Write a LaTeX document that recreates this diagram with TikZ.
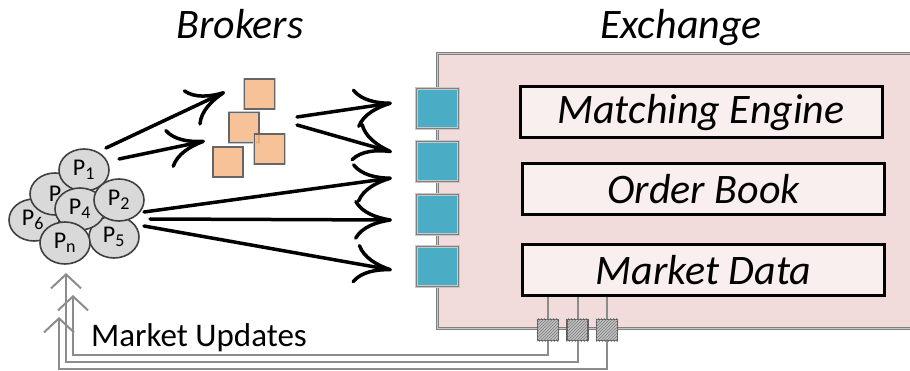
\documentclass[tikz,border=0pt]{standalone}
\usepackage{fontspec}
\setmainfont{Carlito}
\usetikzlibrary{arrows.meta,shapes.geometric,patterns}
\definecolor{exfill}{HTML}{F2DCDB}
\definecolor{boxfill}{HTML}{FAEFEF}
\definecolor{bluefill}{HTML}{4BACC6}
\definecolor{orangefill}{HTML}{F6B785}
\definecolor{rimgray}{HTML}{808080}
\definecolor{rimlight}{HTML}{C8C8C8}
\definecolor{peerfill}{HTML}{D9D9D9}
\definecolor{peerdraw}{HTML}{404040}
\definecolor{updgray}{HTML}{8C8C8C}
\definecolor{sqgray}{HTML}{BFBFBF}
\begin{document}
\begin{tikzpicture}[x=1pt,y=-1pt,
  title/.style={font=\fontsize{42}{46}\selectfont\itshape, inner sep=0pt},
  compbox/.style={draw=black, line width=3pt, fill=boxfill, minimum width=362pt, minimum height=51pt, inner sep=0pt, font=\fontsize{42}{46}\selectfont\itshape},
  portsq/.style={draw=rimlight, double=rimgray, double distance=1.2pt, line width=0.7pt, fill=bluefill, minimum width=42pt, minimum height=40pt, inner sep=0pt},
  brokersq/.style={draw=rimlight, double=rimgray!80!black, double distance=1.4pt, line width=0.7pt, fill=orangefill, fill opacity=0.85, minimum width=30pt, minimum height=30pt, inner sep=0pt},
  mdsq/.style={draw=rimgray!70!black, line width=1.2pt, fill=sqgray, minimum width=21pt, minimum height=21pt, inner sep=0pt},
  peer/.style={ellipse, draw=peerdraw, line width=1.6pt, fill=peerfill, minimum width=50pt, minimum height=42pt, inner sep=0pt, font=\fontsize{24}{25}\selectfont},
  bigarrow/.style={line width=3.5pt, line cap=round, -{Computer Modern Rightarrow[length=38pt,width=40pt]}},
  upd/.style={draw=updgray, line width=2pt},
  updarrow/.style={upd, -{Straight Barb[length=14pt,width=30pt,line width=2pt]}},
]
\newcommand{\psub}[1]{\textsubscript{\fontsize{18}{19}\selectfont #1}}
\useasboundingbox (0,0) rectangle (910,371);

% Titles
\node[title, anchor=base] (tbrokers) at (240,39) {Brokers};
\node[title, anchor=base] (texchange) at (681,39) {Exchange};

% Exchange box
\node[draw=rimgray, double=rimlight, double distance=1pt, line width=0.8pt, fill=exfill, anchor=north west, minimum width=520pt, minimum height=275pt, inner sep=0pt] (exch) at (437,53) {};

% Components
\node[compbox] (me) at (701,112.5) {Matching Engine};
\node[compbox] (ob) at (703.5,189.5) {Order Book};
\node[compbox] (md) at (703.5,270) {Market Data};

% Ports (blue)
\node[portsq] (b1) at (437.5,108.5) {};
\node[portsq] (b2) at (437.5,161.5) {};
\node[portsq] (b3) at (437.5,214.5) {};
\node[portsq] (b4) at (437.5,266.5) {};

% Market data output squares
\node[mdsq] (g1) at (548,330) {};
\node[mdsq] (g2) at (577.5,330) {};
\node[mdsq] (g3) at (607,330) {};
\foreach \n in {g1,g2,g3}{
  \draw[upd] (\n.north) -- (\n.north |- md.south);
  \fill[pattern=north east lines, pattern color=rimgray] (\n.south west) rectangle (\n.north east);
}

% Brokers
\node[brokersq] (oA) at (259.5,94) {};
\node[brokersq] (oB) at (244,127.5) {};
\node[brokersq] (oC) at (269.5,149) {};
\node[brokersq] (oD) at (228,162) {};

% Peers
\node[peer] (p6) at (34,220) {};
\node[peer] (p) at (55,194) {P};
\node[peer] (p1) at (84,170) {P\psub{1}};
\node[peer] (p5) at (114,237) {P\psub{5}};
\node[peer] (p4) at (80,209) {P\psub{4}};
\node[peer] (p2) at (119,200) {P\psub{2}};
\node[font=\fontsize{24}{25}\selectfont, inner sep=0pt] (p6t) at (33,220) {P\psub{6}};
\node[peer] (pn) at (65,243) {P\psub{n}};

% Arrow end points
\coordinate (a1s) at (106,148);
\coordinate (a1e) at (225,92);
\coordinate (a2s) at (119,159);
\coordinate (a2e) at (205,141);
\coordinate (a3s) at (297,117);
\coordinate (a3e) at (392,103);
\coordinate (a4s) at (297,125);
\coordinate (a4e) at (392,152);
\coordinate (a5s) at (144,212);
\coordinate (a5e) at (392,178);
\coordinate (a6s) at (150,219);
\coordinate (a6e) at (392,220);
\coordinate (a7s) at (144,226);
\coordinate (a7e) at (392,270);

\draw[bigarrow] (a1s) -- (a1e);
\draw[bigarrow] (a2s) -- (a2e);
\draw[bigarrow] (a3s) -- (a3e);
\draw[bigarrow] (a4s) -- (a4e);
\draw[bigarrow] (a5s) -- (a5e);
\draw[bigarrow] (a6s) -- (a6e);
\draw[bigarrow] (a7s) -- (a7e);

% Market updates
\coordinate (u1) at (73,295);
\coordinate (u2) at (66,273);
\coordinate (u3) at (59,317);
\draw[updarrow] (g1.south) -- ++(0,14) -| (u1);
\draw[updarrow] (g2.south) -- ++(0,21) -| (u2);
\draw[updarrow] (g3.south) -- ++(0,28) -| (u3);
\node[font=\fontsize{33}{36}\selectfont, anchor=base west, inner sep=0pt] (mu) at (91,346) {Market Updates};
\end{tikzpicture}
\end{document}
